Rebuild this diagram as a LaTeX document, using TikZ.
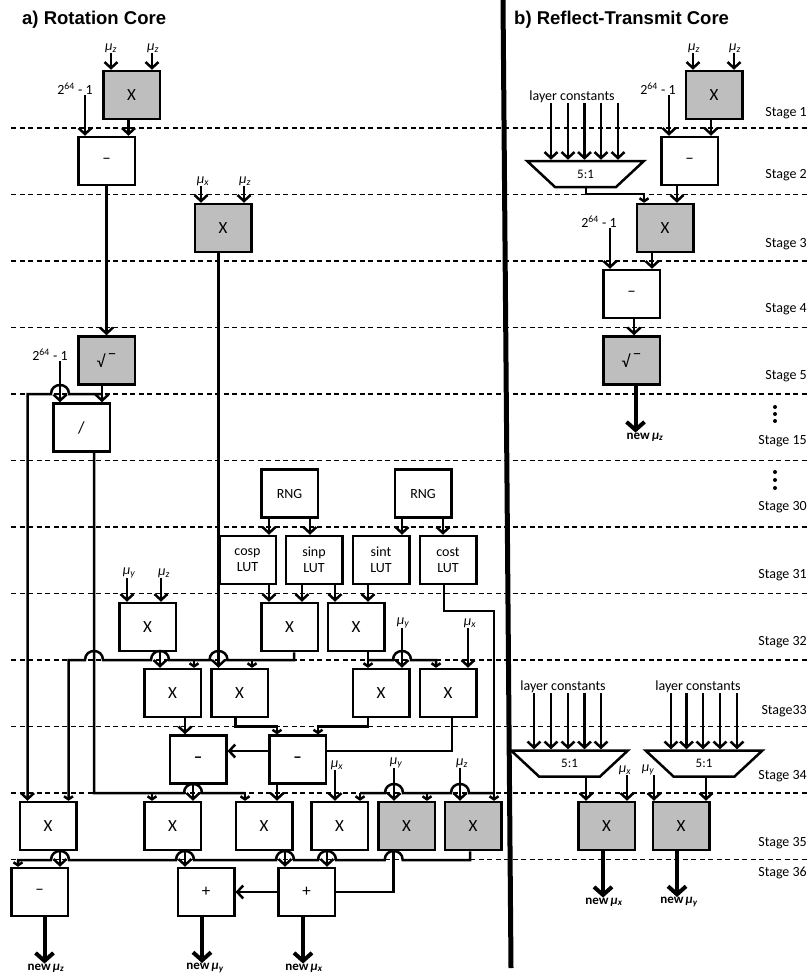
\documentclass[tikz,border=0pt]{standalone}
\usepackage{fontspec}
\setmainfont{Carlito}
\newfontfamily\headfont{Liberation Sans}
\usetikzlibrary{arrows.meta,shapes.geometric}
\definecolor{coregray}{HTML}{BEBEBE}
\newcommand{\hop}[2]{-- (#1-9,#2) .. controls (#1-9,#2-12) and (#1+9,#2-12) .. (#1+9,#2)}
\newcommand{\muv}[1]{\textit{μ\textsubscript{#1}}}
\newcommand{\newmu}[1]{\textbf{new\,\textit{μ\textsubscript{#1}}}}
\newcommand{\twosf}{2\textsuperscript{64} - 1}
\newcommand{\rootsign}{√\raisebox{1.1ex}{\,−}}
\begin{document}
\begin{tikzpicture}[x=1pt, y=-1pt,
    >={Straight Barb[length=6pt,width=13pt]},
    block/.style={draw, line width=2.5pt, fill=white, minimum width=56.5pt, minimum height=48pt,
        inner sep=0pt, font=\fontsize{17}{19}\selectfont},
    grayblock/.style={block, fill=coregray},
    lut/.style={block, font=\fontsize{14}{16}\selectfont, align=center},
    mux/.style={draw, line width=2.5pt, fill=white, trapezium, trapezium stretches=true, shape border rotate=180,
        trapezium angle=48, minimum width=117pt, minimum height=26pt, inner sep=0pt,
        font=\fontsize{13}{15}\selectfont},
    wire/.style={line width=2.5pt},
    tick/.style={>={Straight Barb[length=3pt,width=9pt]}},
    output/.style={line width=4pt, >={Straight Barb[length=8pt,width=18pt]}},
    lab/.style={inner sep=0pt, font=\fontsize{14}{16}\selectfont},
    newlab/.style={inner sep=0pt, font=\fontsize{13}{15}\selectfont},
    stagelab/.style={inner sep=0pt, anchor=east, font=\fontsize{14}{16}\selectfont},
    title/.style={inner sep=0pt, anchor=west, font=\headfont\bfseries\fontsize{18.5}{20}\selectfont}]
    \useasboundingbox (0,0) rectangle (809,979);
    % Stage lines
    \foreach \y in {128,194.5,261,327.5,394,460.5,527,593.5,660,726.5,793,859.5} {
        \draw[line width=1.6pt, dash pattern=on 5pt off 3.5pt] (11,\y) -- (809,\y);
    }
    \foreach \n/\y [count=\i] in {Stage 1/113,Stage 2/175,Stage 3/244,Stage 4/309,Stage 5/376,Stage 15/441,
            Stage 30/507,Stage 31/575,Stage 32/642,Stage33/711,Stage 34/776,Stage 35/843,Stage 36/873} {
        \node[stagelab] (st\i) at (807,\y) {\n};
    }
    \foreach \y in {407,414,421,472,480,488} {
        \fill (775,\y) circle (2pt);
    }
    % Divider and titles
    \draw[line width=5pt] (503,0) -- (511,968);
    \node[title] (titlea) at (22,20) {a) Rotation Core};
    \node[title] (titleb) at (514,20) {b) Reflect-Transmit Core};
    % Blocks of the rotation core
    \node[grayblock] (mula) at (131.5,95) {X};
    \node[block] (suba) at (106.5,161) {–};
    \node[grayblock] (mulb) at (223,228) {X};
    \node[grayblock] (sqrta) at (106.5,360.5) {\rootsign};
    \node[block] (diva) at (81.5,427.5) {/};
    \node[lut] (rnga) at (289.5,493.5) {RNG};
    \node[lut] (rngb) at (423,493.5) {RNG};
    \node[lut] (cosp) at (247.5,560) {cosp\\LUT};
    \node[lut] (sinp) at (314,560) {sinp\\LUT};
    \node[lut] (sint) at (381,560) {sint\\LUT};
    \node[lut] (cost) at (448,560) {cost\\LUT};
    \node[block] (mulc) at (147.5,627) {X};
    \node[block] (muld) at (289.5,627) {X};
    \node[block] (mule) at (356,627) {X};
    \node[block] (mulf) at (172.5,693) {X};
    \node[block] (mulg) at (239.5,693) {X};
    \node[block] (mulh) at (381,693) {X};
    \node[block] (muli) at (448,693) {X};
    \node[block] (subb) at (198,759.5) {\textbf{–}};
    \node[block] (subc) at (297.5,759.5) {\textbf{–}};
    \node[block] (mulj) at (48,826) {X};
    \node[block] (mulk) at (172.5,826) {X};
    \node[block] (mull) at (264,826) {X};
    \node[block] (mulm) at (339.5,826) {X};
    \node[grayblock] (muln) at (406.5,826) {X};
    \node[grayblock] (mulp) at (473,826) {X};
    \node[block] (subd) at (39.5,892) {–};
    \node[block] (adda) at (206,892) {+};
    \node[block] (addb) at (306.5,892) {+};
    % Blocks of the reflect-transmit core
    \node[grayblock] (mulr) at (714,95) {X};
    \node[block] (subr) at (689.5,161) {–};
    \node[mux] (muxa) at (585.5,174) {5:1};
    \node[grayblock] (muls) at (665,228) {X};
    \node[block] (subs) at (631.5,294) {–};
    \node[grayblock] (sqrtr) at (631.5,360.5) {\rootsign};
    \node[mux] (muxb) at (569.5,763.5) {5:1};
    \node[mux] (muxc) at (704,763.5) {5:1};
    \node[grayblock] (mult) at (606.5,826) {X};
    \node[grayblock] (mulu) at (681,826) {X};
    % Input labels
    \node[lab] (mza) at (111,48) {\muv{z}};
    \node[lab] (mzb) at (153,48) {\muv{z}};
    \node[lab] (twoa) at (75,89) {\twosf};
    \node[lab] (mxa) at (203,181) {\muv{x}};
    \node[lab] (mzc) at (245,181) {\muv{z}};
    \node[lab] (twob) at (50,355) {\twosf};
    \node[lab] (mya) at (129,573) {\muv{y}};
    \node[lab] (mzd) at (164,573) {\muv{z}};
    \node[lab] (myb) at (403,623) {\muv{y}};
    \node[lab] (mxb) at (470,623) {\muv{x}};
    \node[lab] (mxc) at (337,765) {\muv{x}};
    \node[lab] (myc) at (396,763) {\muv{y}};
    \node[lab] (mze) at (462,763) {\muv{z}};
    \node[lab] (mzf) at (694,48) {\muv{z}};
    \node[lab] (mzg) at (735,48) {\muv{z}};
    \node[lab] (twoc) at (658,89) {\twosf};
    \node[lab] (twod) at (599,222) {\twosf};
    \node[lab] (layera) at (572,97) {layer constants};
    \node[lab] (layerb) at (563,687) {layer constants};
    \node[lab] (layerc) at (698,687) {layer constants};
    \node[lab] (mxd) at (625,770) {\muv{x}};
    \node[lab] (myd) at (648,770) {\muv{y}};
    % Output labels
    \node[newlab] (newz) at (46,968) {\newmu{z}};
    \node[newlab] (newy) at (205,968) {\newmu{y}};
    \node[newlab] (newx) at (304,968) {\newmu{x}};
    \node[newlab] (newrz) at (645,437) {\newmu{z}};
    \node[newlab] (newrx) at (604,902) {\newmu{x}};
    \node[newlab] (newry) at (679,902) {\newmu{y}};
    % Rotation core: top
    \draw[wire,->] (mza.south -| 111,0) -- (mula.north -| 111,0);
    \draw[wire,->] (mzb.south -| 152,0) -- (mula.north -| 152,0);
    \draw[wire,->] (twoa.south -| 85,0) -- (suba.north -| 85,0);
    \draw[wire,->] (mula.south -| 128.5,0) -- (suba.north -| 128.5,0);
    \draw[wire,->] (suba.south) -- (sqrta.north);
    \draw[wire,->] (mxa.south -| 201,0) -- (mulb.north -| 201,0);
    \draw[wire,->] (mzc.south -| 244,0) -- (mulb.north -| 244,0);
    \draw[wire,->] (mulb.south -| 218.5,0) -- (mulg.north -| 218.5,0);
    \draw[wire,->] (twob.south -| 60,0) -- (diva.north -| 60,0);
    \draw[wire,->] (sqrta.south -| 102,0) -- (diva.north -| 102,0);
    \draw[wire,<-] (mulj.north -| 27.5,0) -- (27.5,394) \hop{60}{394} -- (102,394);
    % Random numbers and tables
    \draw[wire,->] (rnga.south -| 269,0) -- (cosp.north -| 269,0);
    \draw[wire,->] (rnga.south -| 310,0) -- (sinp.north -| 310,0);
    \draw[wire,->] (rngb.south -| 402,0) -- (sint.north -| 402,0);
    \draw[wire,->] (rngb.south -| 443,0) -- (cost.north -| 443,0);
    \draw[wire,->] (cosp.south -| 269,0) -- (muld.north -| 269,0);
    \draw[wire,->] (sinp.south -| 302,0) -- (muld.north -| 302,0);
    \draw[wire,->] (sinp.south -| 335,0) -- (mule.north -| 335,0);
    \draw[wire,->] (sint.south -| 368,0) -- (mule.north -| 368,0);
    \draw[wire,->] (mya.south -| 127,0) -- (mulc.north -| 127,0);
    \draw[wire,->] (mzd.south -| 161,0) -- (mulc.north -| 161,0);
    % Stage 32 to stage 33
    \draw[wire,->] (mulc.south -| 160,0) -- (mulf.north -| 160,0);
    \draw[wire,tick,<-] (mulj.north -| 68.5,0) -- (68.5,660) \hop{94}{660} \hop{160}{660} \hop{218.5}{660}
        -- (294,660) -- (muld.south -| 294,0);
    \draw[wire,tick,->] (194,660) -- (mulf.north -| 194,0);
    \draw[wire,tick,->] (252,660) -- (mulg.north -| 252,0);
    \draw[wire,tick,->] (mule.south -| 368,0) -- (mulh.north -| 368,0);
    \draw[wire,tick,->] (368,660) \hop{402}{660} -- (436,660) -- (muli.north -| 436,0);
    \draw[wire,->] (myb.south -| 402,0) -- (mulh.north -| 402,0);
    \draw[wire,->] (mxb.south -| 468,0) -- (muli.north -| 468,0);
    % Stage 33 to stage 34
    \draw[wire,->] (mulf.south -| 185,0) -- (subb.north -| 185,0);
    \draw[wire,tick,->] (mulg.south -| 235.5,0) -- (235.5,726.5) -- (277,726.5) -- (subc.north -| 277,0);
    \draw[wire,tick,->] (mulh.south -| 368,0) -- (368,726.5) -- (318,726.5) -- (subc.north -| 318,0);
    \draw[wire] (muli.south -| 452,0) -- (452,751) -- (subc.east |- 0,751);
    \draw[wire,->] (subc.west |- 0,751) -- (subb.east |- 0,751);
    % Stage 34 to stage 35
    \draw[wire] (diva.south -| 94,0) -- (94,793) \hop{193}{793} -- (245,793);
    \draw[wire,tick,->] (152,793) -- (mulk.north -| 152,0);
    \draw[wire,tick,->] (245,793) -- (mull.north -| 245,0);
    \draw[wire,->] (subb.south -| 193,0) -- (mulk.north -| 193,0);
    \draw[wire,->] (subc.south -| 277,0) -- (mull.north -| 277,0);
    \draw[wire,->] (mxc.south -| 335,0) -- (mulm.north -| 335,0);
    \draw[wire,->] (myc.south -| 394,0) -- (muln.north -| 394,0);
    \draw[wire,->] (mze.south -| 460,0) -- (mulp.north -| 460,0);
    \draw[wire] (cost.south -| 444,0) -- (444,611) -- (494,611) -- (494,793);
    \draw[wire,tick,->] (494,793) -- (mulp.north -| 494,0);
    \draw[wire,tick,->] (mulm.north -| 360,0) ++(0,-8) -- (mulm.north -| 360,0);
    \draw[wire] (360,793) \hop{394}{793} -- (427,793) \hop{460}{793} -- (494,793);
    \draw[wire,tick,->] (427,793) -- (muln.north -| 427,0);
    % Stage 35 to stage 36
    \draw[wire,->] (mulj.south -| 60,0) -- (subd.north -| 60,0);
    \draw[wire,->] (mulk.south -| 185,0) -- (adda.north -| 185,0);
    \draw[wire,->] (mull.south -| 285,0) -- (addb.north -| 285,0);
    \draw[wire,->] (mulm.south -| 327,0) -- (addb.north -| 327,0);
    \draw[wire,tick,<-] (subd.north -| 18,0) -- (18,860) \hop{60}{860} \hop{185}{860} \hop{285}{860} \hop{327}{860}
        \hop{393.7}{860} -- (470,860) -- (mulp.south -| 470,0);
    \draw[wire] (muln.south -| 393.7,0) -- (393.7,892) -- (addb.east);
    \draw[wire,->] (addb.west) -- (adda.east);
    % Outputs of the rotation core
    \draw[output,->] (subd.south -| 44.5,0) -- (newz.north -| 44.5,0);
    \draw[output,->] (adda.south -| 202,0) -- (newy.north -| 202,0);
    \draw[output,->] (addb.south -| 303,0) -- (newx.north -| 303,0);
    % Reflect-transmit core: top
    \draw[wire,->] (mzf.south -| 693,0) -- (mulr.north -| 693,0);
    \draw[wire,->] (mzg.south -| 734,0) -- (mulr.north -| 734,0);
    \draw[wire,->] (twoc.south -| 669,0) -- (subr.north -| 669,0);
    \draw[wire,->] (mulr.south -| 711,0) -- (subr.north -| 711,0);
    \foreach \xc in {551,568,584.5,601,618} {
        \draw[wire,->] (layera.south -| \xc,0) -- (muxa.north -| \xc,0);
    }
    \draw[wire,tick,->] (muxa.south -| 586,0) -- (586,194) -- (644,194) -- (muls.north -| 644,0);
    \draw[wire,->] (subr.south -| 677,0) -- (muls.north -| 677,0);
    \draw[wire,->] (twod.south -| 610,0) -- (subs.north -| 610,0);
    \draw[wire,->] (muls.south -| 652,0) -- (subs.north -| 652,0);
    \draw[wire,->] (subs.south -| 634,0) -- (sqrtr.north -| 634,0);
    \draw[output,->] (sqrtr.south -| 635.5,0) -- (newrz.north -| 635.5,0);
    % Reflect-transmit core: bottom
    \foreach \xc in {534,551,568,584.5,601} {
        \draw[wire,->] (layerb.south -| \xc,0) -- (muxb.north -| \xc,0);
    }
    \foreach \xc in {671,686.5,703,720,737} {
        \draw[wire,->] (layerc.south -| \xc,0) -- (muxc.north -| \xc,0);
    }
    \draw[wire,->] (muxb.south -| 586,0) -- (mult.north -| 586,0);
    \draw[wire,->] (muxc.south -| 706,0) -- (mulu.north -| 706,0);
    \draw[wire,->] (mxd.south -| 627,0) -- (mult.north -| 627,0);
    \draw[wire,->] (myd.south -| 654,0) -- (mulu.north -| 654,0);
    \draw[output,->] (mult.south -| 603,0) -- (newrx.north -| 603,0);
    \draw[output,->] (mulu.south -| 677,0) -- (newry.north -| 677,0);
\end{tikzpicture}
\end{document}
